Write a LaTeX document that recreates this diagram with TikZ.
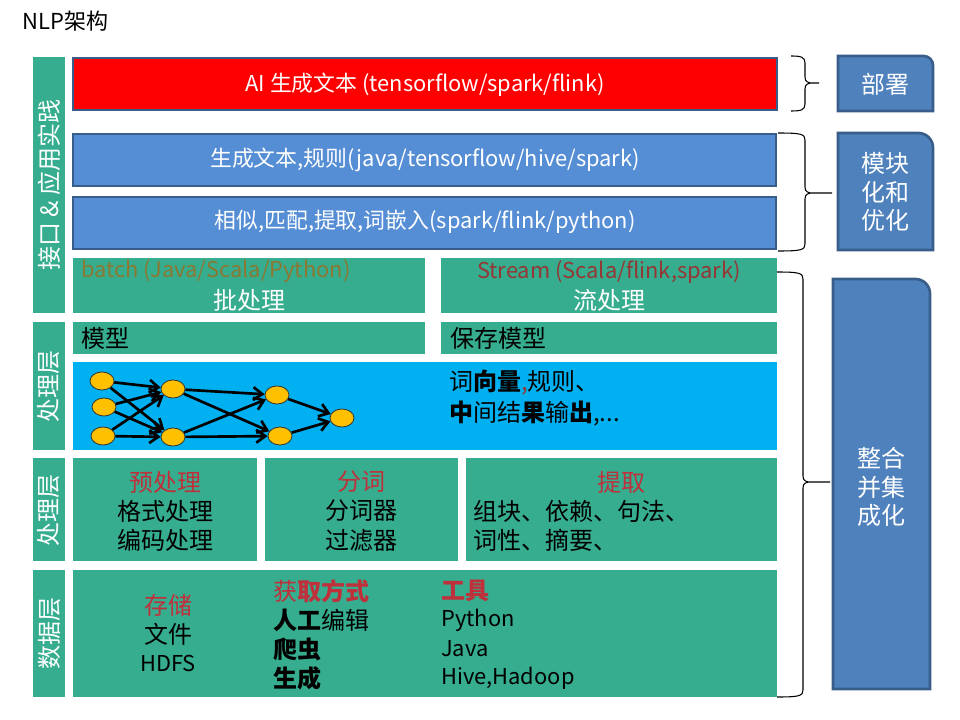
\documentclass[tikz,border=0pt]{standalone}
\usepackage{fontspec}
\setmainfont{Noto Sans CJK SC}
\usepackage{tikz}
\usetikzlibrary{arrows.meta, positioning, shapes.geometric}
\definecolor{LayerGreen}{HTML}{36AD8F}
\definecolor{EdgeBlue}{HTML}{385D8A}
\definecolor{BarBlue}{HTML}{558ED5}
\definecolor{SideBlue}{HTML}{4F81BD}
\definecolor{NetCyan}{HTML}{00B0F0}
\definecolor{NodeGold}{HTML}{FFC000}
\definecolor{HeadRed}{HTML}{C0303A}
\definecolor{StreamRed}{HTML}{953735}
\definecolor{BatchOlive}{HTML}{8C7832}

\begin{document}
\begin{tikzpicture}[
    x=0.75pt, y=-0.75pt,
    txt/.style={font=\fontsize{16.4}{20}\selectfont, inner sep=0pt},
    big/.style={font=\fontsize{18}{22}\selectfont, inner sep=0pt},
    bar/.style={draw=EdgeBlue, line width=2pt},
    side/.style={draw=EdgeBlue, line width=2pt, fill=SideBlue},
    layer/.style={fill=LayerGreen},
    tag/.style={big, text=white, rotate=90},
    sidetxt/.style={font=\fontsize{18}{21.5}\selectfont, inner sep=0pt, text=white, align=center},
    unit/.style={ellipse, draw=black!80, line width=0.6pt, fill=NodeGold,
                 minimum width=18pt, minimum height=13.5pt, inner sep=0pt},
    link/.style={-{Straight Barb[length=2.4mm, width=3.4mm]}, line width=2pt},
    brc/.style={line width=0.8pt},
  ]
  \useasboundingbox (0,0) rectangle (960,720);
  \fill[white] (0,0) rectangle (960,720);

  \node[font=\fontsize{16.5}{20}\selectfont, inner sep=0pt, anchor=west] (title) at (22,21) {NLP架构};

  % left layer tags
  \fill[layer] (33,57) rectangle (65,313);
  \node[tag] (tagapi) at (49,185) {接口 \& 应用实践};
  \fill[layer] (33,322) rectangle (65,450);
  \node[tag] (tagproc) at (49,386) {处理层};
  \fill[layer] (33,458) rectangle (65,561);
  \node[tag] (tagpre) at (49,510) {处理层};
  \fill[layer] (33,570) rectangle (65,697);
  \node[tag] (tagdata) at (49,633) {数据层};

  % application rows
  \draw[bar, fill=red] (73,58) rectangle (777,110);
  \node[txt, text=white] (gen) at (425,85) {AI 生成文本 (tensorflow/spark/flink)};
  \draw[bar, fill=BarBlue] (73,134) rectangle (776,186);
  \node[txt, text=white] (rule) at (425,160) {生成文本,规则(java/tensorflow/hive/spark)};
  \draw[bar, fill=BarBlue] (73,197) rectangle (776,249);
  \node[txt, text=white] (match) at (425,222) {相似,匹配,提取,词嵌入(spark/flink/python)};

  \fill[layer] (73,258) rectangle (425,313);
  \node[txt, text=BatchOlive, anchor=west] (batch) at (81,271) {batch (Java/Scala/Python)};
  \node[big, text=white] (batchcn) at (249,300) {批处理};
  \fill[layer] (441,258) rectangle (777,313);
  \node[txt, text=StreamRed] (stream) at (609,272) {Stream (Scala/flink,spark)};
  \node[big, text=white] (streamcn) at (609,300) {流处理};

  % processing layer
  \fill[layer] (73,322) rectangle (425,354);
  \node[big, anchor=west] (model) at (81,338) {模型};
  \fill[layer] (441,322) rectangle (777,354);
  \node[big, anchor=west] (savemodel) at (450,338) {保存模型};

  \fill[NetCyan] (73,362) rectangle (777,450);
  \node[unit] (i1) at (102,381) {};
  \node[unit] (i2) at (104,407) {};
  \node[unit] (i3) at (103,436) {};
  \node[unit] (h1) at (173,389) {};
  \node[unit] (h2) at (173,437) {};
  \node[unit] (g1) at (277,395) {};
  \node[unit] (g2) at (280,436) {};
  \node[unit] (out) at (342,418) {};
  \foreach \a/\b in {i1/h1, i1/h2, i2/h1, i2/h2, i3/h1, i3/h2,
                     h1/g1, h1/g2, h2/g1, h2/g2, g1/out, g2/out}
    \draw[link] (\a) -- (\b);
  \node[big, anchor=west] (vec) at (449,383) {词\textbf{向量}{\color{StreamRed},}规则、};
  \node[big, anchor=west] (mid) at (449,414) {\textbf{中}间结\textbf{果}输\textbf{出},...};

  % preprocessing layer
  \fill[layer] (73,458) rectangle (257,561);
  \fill[layer] (265,458) rectangle (458,561);
  \fill[layer] (466,458) rectangle (777,561);
  \node[big, text=HeadRed] (pre) at (165,482) {预处理};
  \node[big] (fmt) at (165,511) {格式处理};
  \node[big] (enc) at (165,540) {编码处理};
  \node[big, text=HeadRed] (seg) at (361,482) {分词};
  \node[big] (segr) at (361,511) {分词器};
  \node[big] (filt) at (361,540) {过滤器};
  \node[big, text=HeadRed] (ext) at (621,482) {提取};
  \node[big, anchor=west] (chunk) at (473,511) {组块、依赖、句法、};
  \node[big, anchor=west] (pos) at (473,540) {词性、摘要、};

  % data layer
  \fill[layer] (73,570) rectangle (777,697);
  \node[big, text=HeadRed] (store) at (168,605) {存储};
  \node[big] (file) at (168,634) {文件};
  \node[txt] (hdfs) at (168,663) {HDFS};
  \node[big, text=HeadRed, anchor=west] (get) at (273,591) {获\textbf{取方式}};
  \node[big, anchor=west] (manual) at (273,620) {\textbf{人工}编辑};
  \node[big, anchor=west] (crawl) at (273,649) {\textbf{爬虫}};
  \node[big, anchor=west] (make) at (273,678) {\textbf{生成}};
  \node[big, text=HeadRed, anchor=west] (tool) at (441,591) {\textbf{工具}};
  \node[txt, anchor=west] (py) at (441,620) {Python};
  \node[txt, anchor=west] (java) at (441,649) {Java};
  \node[txt, anchor=west] (hive) at (441,678) {Hive,Hadoop};

  % braces
  \foreach \xa/\xs/\xt/\yt/\ym/\yb in {791/805/819/56/83/111,
                                       778/805/832/133/193/251,
                                       777/803/830/272/482/697}
    \draw[brc] (\xa,\yt) .. controls (\xs-4,\yt) and (\xs,\yt+1) .. (\xs,\yt+7)
       -- (\xs,\ym-6) .. controls (\xs,\ym-1) and (\xs+3,\ym) .. (\xs+8,\ym) -- (\xt,\ym)
       (\xs+8,\ym) .. controls (\xs+3,\ym) and (\xs,\ym+1) .. (\xs,\ym+6)
       -- (\xs,\yb-7) .. controls (\xs,\yb-1) and (\xs-4,\yb) .. (\xa,\yb);

  % right side boxes
  \draw[side] (838,111) -- (838,56) [rounded corners=7pt] -- (933,56) [sharp corners] -- (933,111) -- cycle;
  \node[sidetxt] (deploy) at (885,84) {部署};
  \draw[side] (838,250) -- (838,133) [rounded corners=11pt] -- (933,133) [sharp corners] -- (933,250) -- cycle;
  \node[sidetxt] (modular) at (885,192) {模块\\化和\\优化};
  \draw[side] (833,689) -- (833,279) [rounded corners=11pt] -- (930,279) [sharp corners] -- (930,689) -- cycle;
  \node[sidetxt] (integrate) at (881,487) {整合\\并集\\成化};
\end{tikzpicture}
\end{document}
